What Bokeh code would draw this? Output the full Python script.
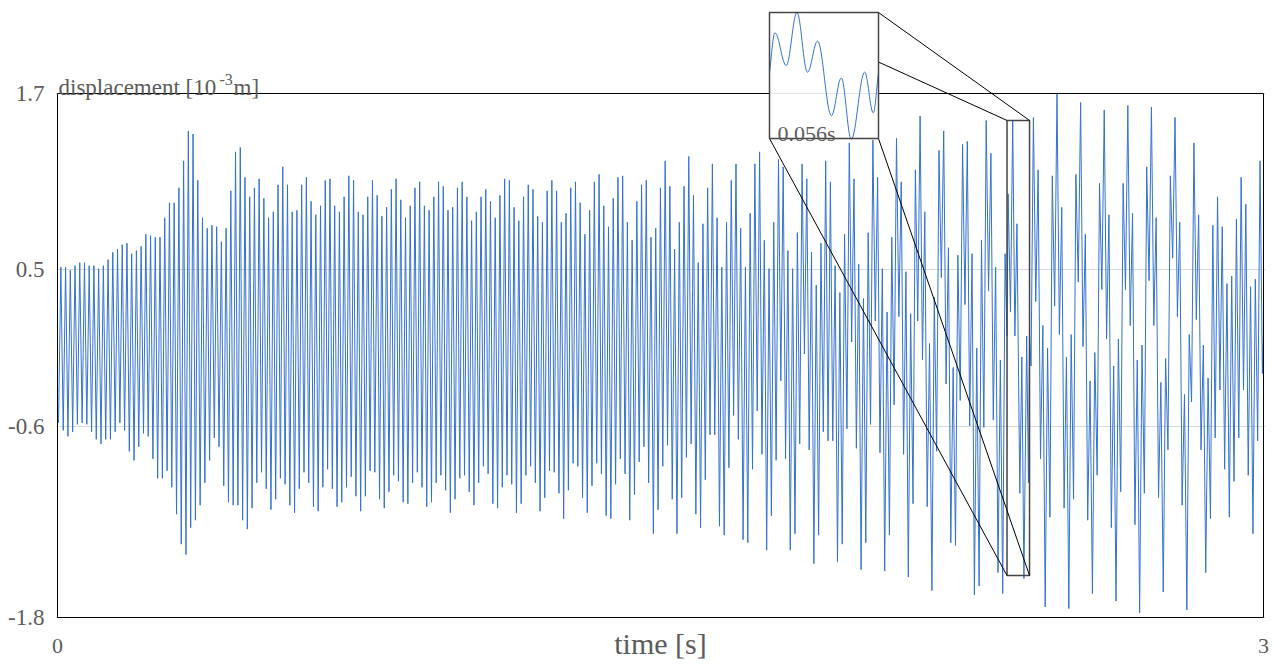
import numpy as np
from bokeh.plotting import figure
from bokeh.models import Range1d, FixedTicker, Label
from bokeh.embed import file_html
from bokeh.resources import INLINE

# ---------------- data ----------------
T_START = 0.0025        # time of the first extremum [s]
HALF_PERIOD = 0.005872  # spacing of successive extrema [s]

# successive extrema (trough / peak) of the displacement signal, 10^-3 m
ext_a = [-0.50, 0.54, -0.55, 0.54, -0.59, 0.52, -0.56, 0.55, -0.51, 0.57, -0.50, 0.57, -0.51, 0.55, -0.56,
         0.55, -0.61, 0.53, -0.64, 0.55, -0.61, 0.59, -0.61, 0.64, -0.56, 0.66, -0.50, 0.69, -0.55, 0.70,
         -0.69, 0.63, -0.75, 0.65, -0.66, 0.68, -0.57, 0.76, -0.59, 0.75, -0.74, 0.74, -0.87, 0.74, -0.87,
         0.87, -0.82]
ext_b = [0.97, -0.93, 0.97, -1.11, 1.07, -1.31, 1.25, -1.38, 1.45, -1.20, 1.43, -1.15, 1.12, -1.05, 0.87,
         -0.90, 0.80, -0.75, 0.82, -0.60, 0.81, -0.66, 0.71, -0.92, 0.80, -1.03, 1.05, -1.05, 1.31, -1.05,
         1.34, -1.15, 1.14, -1.21, 1.01, -1.07, 1.07, -0.90, 1.13, -0.83, 1.00, -0.94, 0.87, -1.08, 0.91,
         -1.01, 1.09]
ext_c = [-0.87, 1.21, -0.91, 1.09, -1.05, 0.91, -1.10, 0.92, -0.94, 1.09, -0.83, 1.14, -0.90, 0.98, -1.06,
         0.89, -1.09, 0.95, -0.93, 1.12, -0.81, 1.13, -0.94, 0.95, -1.06, 0.91, -1.03, 1.01, -0.93, 1.15,
         -0.86, 1.12, -0.99, 0.91, -1.09, 0.89, -0.99, 1.01, -0.82, 1.12, -0.83, 1.02, -1.01, 0.88, -1.07,
         0.94]
ext_d = [-0.96, 1.06, -0.85, 1.13, -0.89, 0.99, -1.03, 0.87, -1.04, 0.95, -0.90, 1.07, -0.83, 1.11, -0.93,
         0.95, -1.06, 0.92, -1.03, 1.01, -0.90, 1.11, -0.85, 1.08, -0.95, 0.92, -1.10, 0.94, -1.01, 1.07,
         -0.87, 1.11, -0.85, 1.01, -0.96, 0.85, -1.05, 0.91, -0.90, 1.01, -0.79, 1.06, -0.84, 0.98, -1.04,
         0.87, -1.07]
ext_e = [1.02, -0.93, 1.13, -0.85, 1.12, -0.91, 0.94, -1.10, 0.85, -1.04, 1.01, -0.85, 1.09, -0.79, 1.06,
         -0.90, 0.88, -1.09, 0.84, -1.00, 1.05, -0.82, 1.12, -0.83, 1.05, -0.97, 0.84, -1.14, 0.90, -0.95,
         1.07, -0.77, 1.11, -0.79, 0.97, -1.00, 0.76, -1.10, 0.92, -0.92, 1.11, -0.77, 1.16, -0.84, 0.95,
         -1.12]
ext_f = [0.81, -1.14, 1.00, -0.91, 1.14, -0.74, 1.15, -0.84, 0.84, -1.15, 0.72, -0.98, 0.98, -0.76, 1.09,
         -0.66, 1.12, -0.90, 0.74, -1.24, 0.80, -1.08, 1.07, -0.79, 1.25, -0.65, 1.08, -1.01, 0.66, -1.24,
         0.84, -1.00, 1.08, -0.73, 1.28, -0.64, 1.02, -1.11, 0.57, -1.20, 0.83, -0.88, 1.07, -0.58, 1.23,
         -0.58, 0.87]
ext_g = [-1.19, 0.54, -1.25, 0.84, -0.80, 1.12, -0.45, 1.23, -0.61, 0.80, -1.28, 0.54, -1.30, 0.90, -0.81,
         1.23, -0.42, 1.31, -0.71, 0.72, -1.35, 0.53, -1.12, 0.84, -0.75, 1.26, -0.22, 1.21, -0.74, 0.65,
         -1.35, 0.53, -1.24, 0.77, -0.64, 1.23, -0.04, 1.13, -0.68, 0.64, -1.44, 0.42, -1.25, 0.70, -0.56,
         1.25]
ext_h = [-0.62, 1.11, -0.62, 0.55, -1.43, 0.37, -1.31, 0.76, -0.54, 1.37, 0.04, 1.13, -0.67, 0.56, -1.48,
         0.33, -1.30, 0.77, -0.51, 1.39, 0.18, 1.14, -0.70, 0.53, -1.49, 0.24, -1.25, 0.74, -0.38, 1.40,
         0.21, 1.11, -0.71, 0.51, -1.53, 0.23, -1.04, 1.19, 0.18, 1.55, -0.08, 0.91, -1.06, 0.03, -1.62,
         0.34, -0.69]
ext_i = [1.32, 0.47, 1.45, -0.24, 0.67, -1.30, -0.13, -1.32, 0.62, -0.35, 1.36, 0.29, 1.38, -0.52, 0.63,
         -1.65, 0.00, -1.59, 0.72, -0.53, 1.52, 0.38, 1.30, -0.48, 0.54, -1.50, -0.08, -1.64, 0.63, -0.55,
         1.51, 0.51, 1.31, -0.40, 0.36, -1.20, -0.18, -1.20, 0.87, -0.12, 1.54, 0.31, 1.19, -0.74, 0.15,
         -1.73]
ext_j = [0.00, -1.13, 1.15, 0.28, 1.70, 0.09, 0.94, -1.07, -0.06, -1.74, 0.09, -1.01, 1.16, 0.44, 1.64,
         0.01, 0.76, -1.15, -0.22, -1.64, -0.03, -0.85, 1.10, 0.39, 1.59, 0.06, 0.89, -1.20, -0.12, -1.69,
         0.06, -0.96, 1.10, 0.39, 1.62, 0.15, 0.90, -1.18, -0.08, -1.77, 0.02, -0.97, 1.21, 0.45, 1.61,
         0.15, 0.87]
ext_k = [-1.00, -0.23, -1.63, -0.07, -0.68, 1.15, 0.60, 1.54, 0.21, 0.84, -1.05, -0.31, -1.75, 0.09, -0.36,
         1.37, 0.19, 0.89, -0.68, 0.02, -1.50, -0.20, -1.14, 0.82, -0.60, 1.01, -0.28, 0.81, -0.81, 0.43,
         -1.13, 0.48, -0.89, 0.86, -0.60, 1.14, -0.28, 0.96, -0.85, 0.41, -1.24, 0.46, -0.62, 1.25, -0.17]
END_T = 3.0
END_V = 0.12

# magnified window (inset): window edges + extrema
ZOOM_T0 = 2.362
ZOOM_T1 = 2.418
ZOOM_V = 1.52
zoom_t = [2.3620, 2.3648, 2.3706, 2.3761, 2.3815, 2.3867, 2.3938, 2.3989, 2.4040, 2.4109, 2.4153, 2.4180]
zoom_v = [0.08, 1.03, 0.24, 1.52, 0.08, 0.83, -0.97, -0.06, -1.54, 0.08, -0.90, 0.08]
zoom_is_extremum = [False, True, True, True, True, True, True, True, True, True, True, False]
zoom_label = "0.056s"

y_ticks = [-1.8, -0.524, 0.524, 1.7]
y_tick_labels = ["-1.8", "-0.6", "0.5", "1.7"]
x_ticks = [0, 3]
x_tick_labels = ["0", "3"]

# ---------------- assemble series ----------------
extrema = np.array(ext_a + ext_b + ext_c + ext_d + ext_e + ext_f + ext_g + ext_h + ext_i + ext_j + ext_k)
t_ext = T_START + HALF_PERIOD * np.arange(len(extrema))
before = t_ext < zoom_t[0]
after = t_ext > zoom_t[-1]
t_all = np.concatenate([t_ext[before], zoom_t, t_ext[after], [END_T]])
v_all = np.concatenate([extrema[before], zoom_v, extrema[after], [END_V]])

# ---------------- layout (pixels) ----------------
W, H = 1276, 664
PX_L, PX_R, PX_T, PX_B = 55, 1265, 8, 619      # frame
X0PX, X1PX = 57, 1263                          # t = 0 .. 3
Y_TOP_PX, Y_BOT_PX = 93, 617                   # v = 1.7 .. -1.8
XPU = (X1PX - X0PX) / 3.0
YPU = (Y_BOT_PX - Y_TOP_PX) / 3.5
IN_L, IN_R, IN_T, IN_B = 769, 878, 12, 138     # inset box


def px_x(px):
    return (px - X0PX) / XPU


def px_y(py):
    return 1.7 - (py - Y_TOP_PX) / YPU


FONT = "Liberation Serif, serif"
GRAY = "#5c5c5c"
BLUE = "#3572cc"

p = figure(width=W, height=H, output_backend="svg", toolbar_location=None,
           x_range=Range1d(-(X0PX - PX_L) / XPU, 3 + (PX_R - X1PX) / XPU),
           y_range=Range1d(-1.8 - (PX_B - Y_BOT_PX) / YPU, 1.7 + (Y_TOP_PX - PX_T) / YPU),
           min_border_left=PX_L, min_border_right=W - PX_R, min_border_top=PX_T,
           min_border_bottom=H - PX_B)
p.outline_line_color = None
p.background_fill_color = "white"
p.border_fill_color = "white"

# inset ranges
ipx = (ZOOM_T1 - ZOOM_T0) / (IN_R - IN_L)
ipy = 2 * ZOOM_V / (IN_B - IN_T)
p.extra_x_ranges = {"inset": Range1d(ZOOM_T0 - (IN_L - PX_L) * ipx, ZOOM_T1 + (PX_R - IN_R) * ipx)}
p.extra_y_ranges = {"inset": Range1d(-ZOOM_V - (PX_B - IN_B) * ipy, ZOOM_V + (IN_T - PX_T) * ipy)}

# axes
p.xaxis.ticker = FixedTicker(ticks=x_ticks)
p.xaxis.major_label_overrides = dict(zip(x_ticks, x_tick_labels))
p.yaxis.ticker = FixedTicker(ticks=y_ticks)
p.yaxis.major_label_overrides = dict(zip(y_ticks, y_tick_labels))
for ax in (p.xaxis, p.yaxis):
    ax.axis_line_color = None
    ax.major_tick_line_color = None
    ax.minor_tick_line_color = None
    ax.major_label_text_font = FONT
    ax.major_label_text_color = GRAY
p.yaxis.major_label_text_font_size = "23px"
p.xaxis.major_label_text_font_size = "22px"
p.yaxis.major_label_standoff = 5
p.xaxis.major_label_standoff = 13
p.xaxis.axis_label = "time [s]"
p.xaxis.axis_label_text_font = FONT
p.xaxis.axis_label_text_font_size = "30px"
p.xaxis.axis_label_text_font_style = "normal"
p.xaxis.axis_label_text_color = GRAY
p.xaxis.axis_label_standoff = -29

p.xgrid.grid_line_color = None
p.ygrid.grid_line_color = "#d9d9d9"
p.ygrid.grid_line_width = 1

# main signal
p.line(t_all, v_all, line_color=BLUE, line_width=1)

# frame
p.quad(left=0, right=3, bottom=-1.8, top=1.7, fill_color=None, line_color="black", line_width=1)

# zoom box in the main plot
p.quad(left=ZOOM_T0, right=ZOOM_T1, bottom=-ZOOM_V, top=ZOOM_V, fill_color=None,
       line_color="#444444", line_width=1.5)

# connectors
ix0, ix1, iy0, iy1 = px_x(IN_L), px_x(IN_R), px_y(IN_B), px_y(IN_T)
p.segment(x0=[ix0, ix1, ix0, ix1], y0=[iy1, iy1, iy0, iy0],
          x1=[ZOOM_T0, ZOOM_T1, ZOOM_T0, ZOOM_T1], y1=[ZOOM_V, ZOOM_V, -ZOOM_V, -ZOOM_V],
          line_color="black", line_width=1)

# inset background, faint continuation of the 1.7 line
p.quad(left=ix0, right=ix1, bottom=iy0, top=iy1, fill_color="white", line_color=None)
p.segment(x0=[ix0], y0=[1.7], x1=[ix1], y1=[1.7], line_color="#e4e4e4", line_width=1)

# inset curve: smooth cubic segments between successive readings
zt = np.array(zoom_t)
zv = np.array(zoom_v)
ze = np.array(zoom_is_extremum)
K = 0.364
x0s, y0s, x1s, y1s = zt[:-1], zv[:-1], zt[1:], zv[1:]
dx = x1s - x0s
dy = y1s - y0s
cx0 = x0s + K * dx
cy0 = np.where(ze[:-1], y0s, y0s + K * dy)
cx1 = x1s - K * dx
cy1 = np.where(ze[1:], y1s, y1s - K * dy)
p.bezier(x0=x0s, y0=y0s, x1=x1s, y1=y1s, cx0=cx0, cy0=cy0, cx1=cx1, cy1=cy1,
         x_range_name="inset", y_range_name="inset", line_color=BLUE, line_width=1)
p.quad(left=ix0, right=ix1, bottom=iy0, top=iy1, fill_color=None, line_color="#444444", line_width=1.5)
p.add_layout(Label(x=px_x(777), y=px_y(133), text=zoom_label, text_font=FONT, text_font_size="22px",
                   text_color=GRAY, text_baseline="alphabetic"))

# y title with superscript
p.add_layout(Label(x=px_x(58), y=1.7, y_offset=6, text="displacement [10", text_font=FONT,
                   text_font_size="23px", text_color=GRAY, text_baseline="alphabetic"))
p.add_layout(Label(x=px_x(219), y=1.7, y_offset=14, text="-3", text_font=FONT,
                   text_font_size="16px", text_color=GRAY, text_baseline="alphabetic"))
p.add_layout(Label(x=px_x(233), y=1.7, y_offset=6, text="m]", text_font=FONT,
                   text_font_size="23px", text_color=GRAY, text_baseline="alphabetic"))

open("out.html", "w").write(file_html(p, INLINE))
